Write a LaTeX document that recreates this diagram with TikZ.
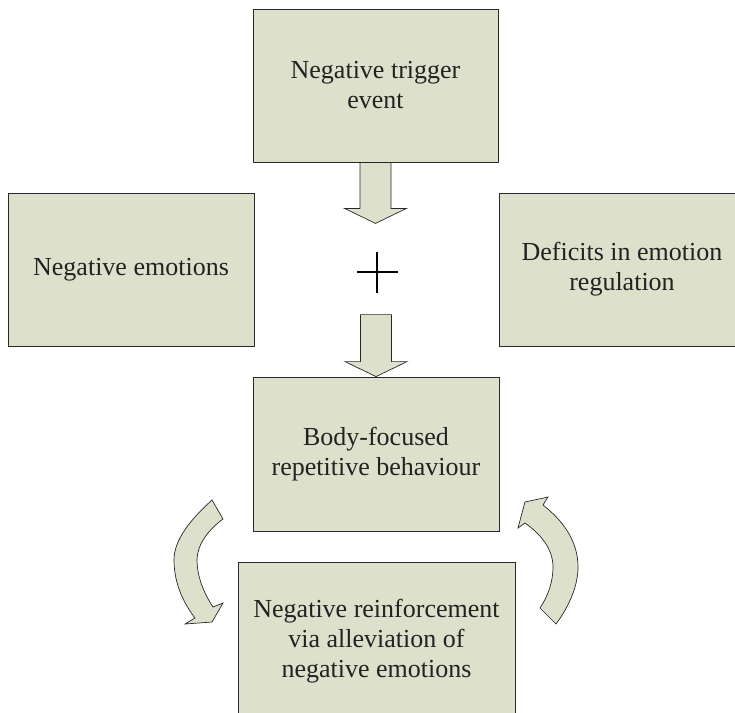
\documentclass[tikz,border=0pt]{standalone}
\usepackage{fontspec}
\setmainfont{Liberation Serif}
\usepackage{tikz}
\usetikzlibrary{calc}

\definecolor{boxfill}{RGB}{221,225,204}
\definecolor{boxline}{RGB}{40,40,40}
\definecolor{boxtext}{RGB}{34,34,34}

\tikzset{
  stagebox/.style={draw=boxline, fill=boxfill, line width=0.8pt, text=boxtext,
    align=center, font=\fontsize{26}{30}\selectfont, inner sep=2pt},
  blockarrow/.style={draw=boxline, fill=boxfill, line width=0.7pt, line join=miter},
  plusline/.style={draw=black, line width=1.6pt}
}

\begin{document}
\begin{tikzpicture}[x=1pt,y=-1pt]
\clip (0,0) rectangle (735,712);

\node[stagebox, minimum width=245pt, minimum height=153pt] (trigger) at (375.5,85.5) {Negative trigger\\event};
\node[stagebox, minimum width=246pt, minimum height=153pt] (emotions) at (131,269.5) {Negative emotions};
\node[stagebox, minimum width=246pt, minimum height=153pt] (deficits) at (622,269.5) {Deficits in emotion\\regulation};
\node[stagebox, minimum width=246pt, minimum height=154pt] (behaviour) at (376,454) {Body-focused\\repetitive behaviour};
\node[stagebox, minimum width=277pt, minimum height=153pt, text depth=0pt] (reinforce) at (376.5,638.5) {Negative reinforcement\\via alleviation of\\negative emotions};

% straight arrows
\coordinate (tip1) at ($(trigger.south)+(0,61)$);
\draw[blockarrow] (tip1) -- ++(-31,-15) -- ++(15.5,0) -- ++(0,-46) -- ++(31,0) -- ++(0,46) -- ++(15.5,0) -- cycle;
\draw[blockarrow] (behaviour.north) -- ++(-31,-15) -- ++(15.5,0) -- ++(0,-47) -- ++(31,0) -- ++(0,47) -- ++(15.5,0) -- cycle;

% plus sign
\coordinate (plus) at (377,272);
\draw[plusline] ($(plus)+(-20.5,0)$) -- ($(plus)+(20.5,0)$);
\draw[plusline] ($(plus)+(0,-20.5)$) -- ($(plus)+(0,20.5)$);

% curved arrows
\draw[blockarrow] (212,500) .. controls (190,520) and (174,540) .. (174,560)
  .. controls (174,585) and (185,605) .. (195,618) -- (185,624) -- (212,622) -- (223,603) -- (213,607)
  .. controls (203,592) and (197,575) .. (197,560) .. controls (197,545) and (208,530) .. (223,519) -- cycle;
\draw[blockarrow] (556,624) .. controls (570,605) and (578,585) .. (578,567)
  .. controls (578,540) and (562,520) .. (543,505) -- (548,497) -- (525,502) -- (518,528) -- (525,523)
  .. controls (542,535) and (553,550) .. (553,567) .. controls (553,582) and (548,596) .. (540,608) -- cycle;

\end{tikzpicture}
\end{document}
